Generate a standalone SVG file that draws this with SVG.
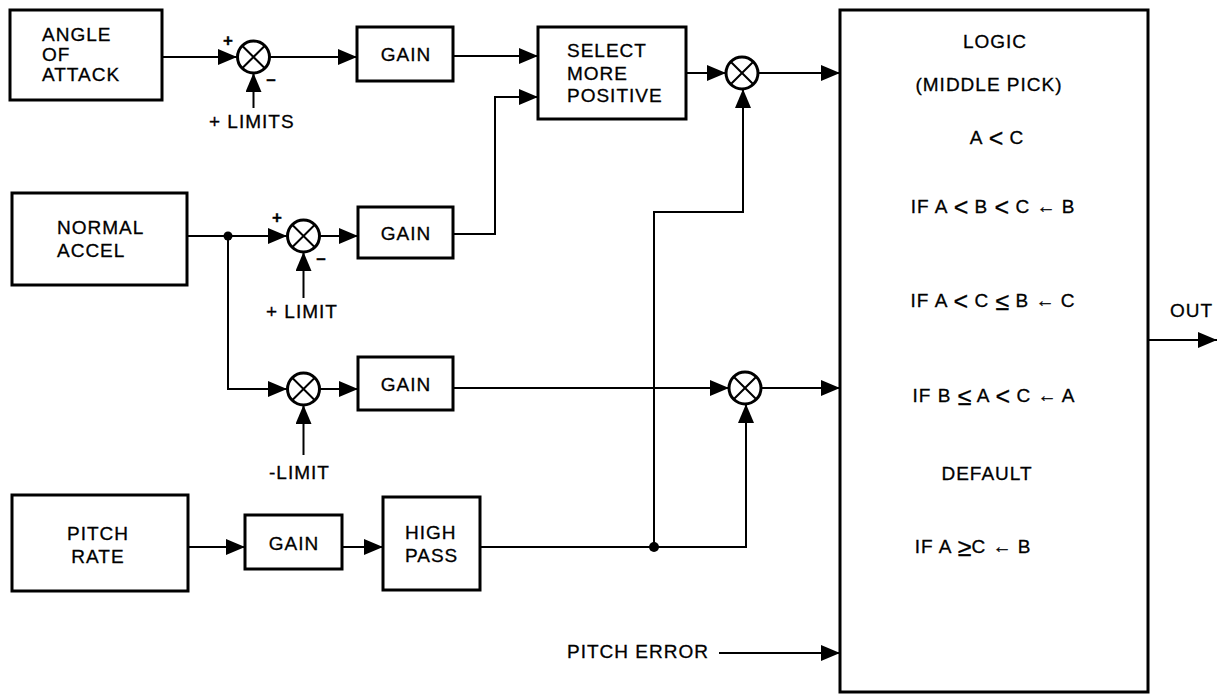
<svg xmlns="http://www.w3.org/2000/svg" width="1224" height="695" viewBox="0 0 1224 695">
<style>
  .box { fill: #fff; stroke: #000; stroke-width: 3; }
  .sum { fill: #fff; stroke: #000; stroke-width: 3; }
  .x { stroke: #000; stroke-width: 2; }
  .wire { fill: none; stroke: #000; stroke-width: 2; }
  .arr { marker-end: url(#ah); }
  text { font-family: "Liberation Sans", Arial, sans-serif; font-size: 19px; letter-spacing: 1px; fill: #000; stroke: #000; stroke-width: 0.3; }
  .c { text-anchor: middle; }
  .sign { font-size: 17px; font-weight: bold; letter-spacing: 0; }
  .op { font-size: 25px; letter-spacing: 0; baseline-shift: -3px; }
  .ar { font-size: 19px; letter-spacing: 0; }
</style>
<defs>
  <marker id="ah" markerUnits="userSpaceOnUse" markerWidth="19" markerHeight="16" refX="19" refY="8" orient="auto">
    <path d="M0,0 L19,8 L0,16 z" fill="#000"/>
  </marker>
</defs>

<g id="connectors">
  <path class="wire arr" d="M162,57 H237"/>
  <path class="wire arr" d="M253.5,108 V73"/>
  <path class="wire arr" d="M270,57 H357"/>
  <path class="wire arr" d="M453,56 H538"/>
  <path class="wire arr" d="M453,234 H495 V97 H538"/>
  <path class="wire arr" d="M686,73 H726"/>
  <path class="wire arr" d="M759,73 H840"/>
  <path class="wire arr" d="M654,547 V212 H743 V89"/>
  <path class="wire arr" d="M187,236 H287"/>
  <path class="wire arr" d="M303.5,298 V252"/>
  <path class="wire arr" d="M320,236 H358"/>
  <path class="wire arr" d="M228,236 V389 H287"/>
  <path class="wire arr" d="M303.5,455 V405"/>
  <path class="wire arr" d="M320,389 H358"/>
  <path class="wire arr" d="M453,388 H729"/>
  <path class="wire arr" d="M761,388 H840"/>
  <path class="wire arr" d="M654,547 H746 V404"/>
  <path class="wire arr" d="M188,547 H245"/>
  <path class="wire arr" d="M342,547 H383"/>
  <path class="wire" d="M480,547 H654"/>
  <path class="wire arr" d="M719,653 H840"/>
  <path class="wire arr" d="M1148,340 H1217"/>
  <circle cx="228" cy="236" r="4.5" fill="#000"/>
  <circle cx="654" cy="547" r="5" fill="#000"/>
</g>

<g id="angle-of-attack">
  <rect class="box" x="10" y="10" width="152" height="90"/>
  <text x="42" y="41">ANGLE</text>
  <text x="42" y="61">OF</text>
  <text x="42" y="81">ATTACK</text>
</g>

<g id="sum1">
  <circle class="sum" cx="253.5" cy="57" r="16"/>
  <path class="x" d="M242.2,45.7 L264.8,68.3 M264.8,45.7 L242.2,68.3"/>
  <text class="sign c" x="228" y="46">+</text>
  <text class="sign c" x="271" y="85">–</text>
  <text x="209" y="128">+ LIMITS</text>
</g>

<g id="gain1">
  <rect class="box" x="357" y="27" width="96" height="54"/>
  <text class="c" x="406" y="61">GAIN</text>
</g>

<g id="select-more-positive">
  <rect class="box" x="538" y="27" width="148" height="92"/>
  <text x="567" y="57">SELECT</text>
  <text x="567" y="80">MORE</text>
  <text x="567" y="102">POSITIVE</text>
</g>

<g id="sum3">
  <circle class="sum" cx="742" cy="73" r="16"/>
  <path class="x" d="M730.7,61.7 L753.3,84.3 M753.3,61.7 L730.7,84.3"/>
</g>

<g id="normal-accel">
  <rect class="box" x="12" y="193" width="175" height="92"/>
  <text x="57" y="234">NORMAL</text>
  <text x="57" y="257">ACCEL</text>
</g>

<g id="sum2">
  <circle class="sum" cx="303.5" cy="236" r="16"/>
  <path class="x" d="M292.2,224.7 L314.8,247.3 M314.8,224.7 L292.2,247.3"/>
  <text class="sign c" x="277" y="223">+</text>
  <text class="sign c" x="321" y="264">–</text>
  <text x="266" y="318">+ LIMIT</text>
</g>

<g id="gain2">
  <rect class="box" x="358" y="207" width="95" height="51"/>
  <text class="c" x="406" y="240">GAIN</text>
</g>

<g id="sum4">
  <circle class="sum" cx="303.5" cy="389" r="16"/>
  <path class="x" d="M292.2,377.7 L314.8,400.3 M314.8,377.7 L292.2,400.3"/>
  <text x="269" y="479">-LIMIT</text>
</g>

<g id="gain3">
  <rect class="box" x="358" y="357" width="95" height="53"/>
  <text class="c" x="406" y="391">GAIN</text>
</g>

<g id="sum5">
  <circle class="sum" cx="745" cy="388" r="16"/>
  <path class="x" d="M733.7,376.7 L756.3,399.3 M756.3,376.7 L733.7,399.3"/>
</g>

<g id="pitch-rate">
  <rect class="box" x="12" y="495" width="176" height="96"/>
  <text class="c" x="98" y="540">PITCH</text>
  <text class="c" x="98" y="563">RATE</text>
</g>

<g id="gain4">
  <rect class="box" x="245" y="515" width="97" height="54"/>
  <text class="c" x="294" y="550">GAIN</text>
</g>

<g id="high-pass">
  <rect class="box" x="383" y="497" width="97" height="93"/>
  <text x="405" y="539">HIGH</text>
  <text x="405" y="562">PASS</text>
</g>

<g id="pitch-error">
  <text x="567" y="658">PITCH ERROR</text>
</g>

<g id="logic">
  <rect class="box" x="840" y="10" width="308" height="682"/>
  <text class="c" x="995" y="48">LOGIC</text>
  <text class="c" x="989" y="91">(MIDDLE PICK)</text>
  <text class="c" x="997" y="144">A <tspan class="op">&lt;</tspan>  C</text>
  <text class="c" x="993" y="213">IF A <tspan class="op">&lt;</tspan> B <tspan class="op">&lt;</tspan> C  <tspan class="ar">←</tspan>  B</text>
  <text class="c" x="993" y="307">IF A <tspan class="op">&lt;</tspan> C <tspan class="op">≤</tspan> B  <tspan class="ar">←</tspan>  C</text>
  <text class="c" x="994" y="402">IF B  <tspan class="op">≤</tspan>  A <tspan class="op">&lt;</tspan> C  <tspan class="ar">←</tspan>  A</text>
  <text class="c" x="987" y="480">DEFAULT</text>
  <text class="c" x="973" y="553">IF A <tspan class="op">≥</tspan>C <tspan class="ar">←</tspan> B</text>
</g>

<g id="out">
  <text x="1170" y="317">OUT</text>
</g>
</svg>
